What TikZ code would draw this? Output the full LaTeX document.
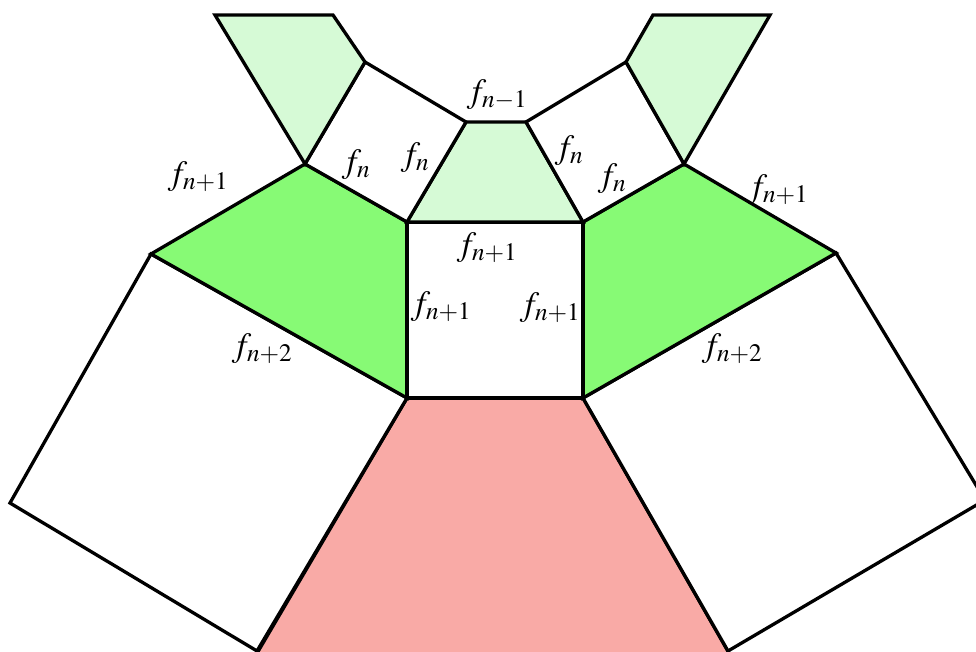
\documentclass[tikz,border=0pt]{standalone}
\usepackage{mathptmx}
\definecolor{lgreen}{RGB}{214,250,214}
\definecolor{mgreen}{RGB}{135,250,117}
\definecolor{pink}{RGB}{249,170,166}
\begin{document}
\begin{tikzpicture}[x=1pt,y=-1pt,
  face/.style={draw=black,line width=3.3pt,line join=miter},
  lbl/.style={inner sep=0pt,font=\fontsize{34}{40}\selectfont}]
\useasboundingbox (0,0) rectangle (976,652);
\clip (0,0) rectangle (976,652);
% vertices
\coordinate (S1) at (407,222); \coordinate (S2) at (583,222);
\coordinate (S3) at (583,398); \coordinate (S4) at (407,398);
\coordinate (T1) at (466,122); \coordinate (T2) at (526,122);
\coordinate (L1) at (365,62);  \coordinate (L2) at (305,164);
\coordinate (L3) at (333,15);  \coordinate (L4) at (215,15);
\coordinate (L5) at (151,254); \coordinate (L6) at (10,503);
\coordinate (L7) at (257,651);
\coordinate (R1) at (626,62);  \coordinate (R2) at (684,164);
\coordinate (R3) at (653,15);  \coordinate (R4) at (770,15);
\coordinate (R5) at (836,253); \coordinate (R6) at (985,500);
\coordinate (R7) at (728,651);
\coordinate (P1) at (253,660); \coordinate (P2) at (733,660);
% faces
\draw[face,fill=pink] (S4) -- (S3) -- (P2) -- (P1) -- cycle;
\draw[face,fill=white] (S4) -- (L5) -- (L6) -- (L7) -- cycle;
\draw[face,fill=white] (S3) -- (R5) -- (R6) -- (R7) -- cycle;
\draw[face,fill=mgreen] (S1) -- (L2) -- (L5) -- (S4) -- cycle;
\draw[face,fill=mgreen] (S2) -- (R2) -- (R5) -- (S3) -- cycle;
\draw[face,fill=white] (S1) -- (S2) -- (S3) -- (S4) -- cycle;
\draw[face,fill=lgreen] (S1) -- (T1) -- (T2) -- (S2) -- cycle;
\draw[face,fill=white] (S1) -- (T1) -- (L1) -- (L2) -- cycle;
\draw[face,fill=white] (S2) -- (T2) -- (R1) -- (R2) -- cycle;
\draw[face,fill=lgreen] (L2) -- (L1) -- (L3) -- (L4) -- cycle;
\draw[face,fill=lgreen] (R2) -- (R1) -- (R3) -- (R4) -- cycle;
% labels
\node[lbl] (a1) at (198,177) {$f_{n+1}$};
\node[lbl] (a2) at (356,165) {$f_{n}$};
\node[lbl] (a3) at (415,158) {$f_{n}$};
\node[lbl] (a4) at (497,95) {$f_{n-1}$};
\node[lbl] (a5) at (569,151) {$f_{n}$};
\node[lbl] (a6) at (612,179) {$f_{n}$};
\node[lbl] (a7) at (778,190) {$f_{n+1}$};
\node[lbl] (a8) at (487,248) {$f_{n+1}$};
\node[lbl] (a9) at (441,307) {$f_{n+1}$};
\node[lbl] (a10) at (550,308) {$f_{n+1}$};
\node[lbl] (a11) at (262,349) {$f_{n+2}$};
\node[lbl] (a12) at (732,349) {$f_{n+2}$};
\end{tikzpicture}
\end{document}
